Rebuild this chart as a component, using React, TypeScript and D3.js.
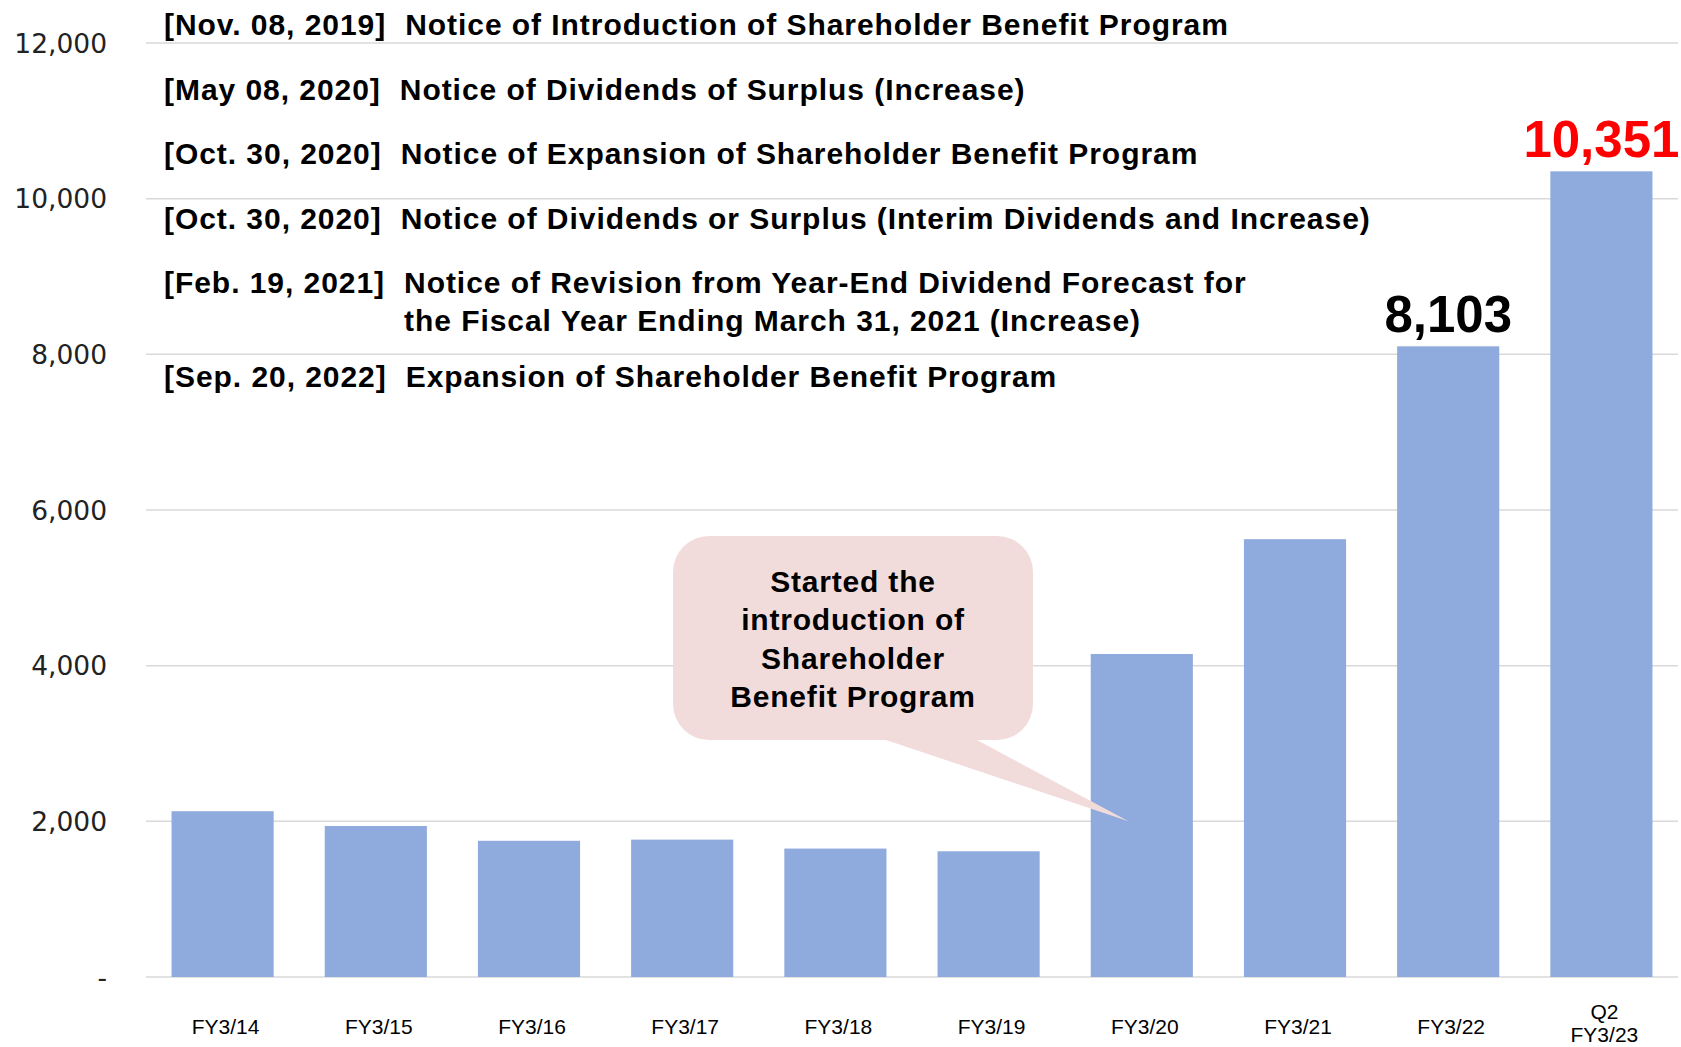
import React, { useEffect, useRef } from "react";
import * as d3 from "d3";

// Shareholders (persons) by fiscal year
const categories = [
  "FY3/14",
  "FY3/15",
  "FY3/16",
  "FY3/17",
  "FY3/18",
  "FY3/19",
  "FY3/20",
  "FY3/21",
  "FY3/22",
  "Q2\nFY3/23",
];
const values = [2130, 1940, 1750, 1765, 1650, 1615, 4150, 5625, 8103, 10351];
const yTicks = [0, 2000, 4000, 6000, 8000, 10000, 12000];

// bars that get a big value label
const labelled = ["FY3/22", "Q2\nFY3/23"];
const labelColors = ["#000000", "#FF0000"];

const noticeDates = [
  "[Nov. 08, 2019]",
  "[May 08, 2020]",
  "[Oct. 30, 2020]",
  "[Oct. 30, 2020]",
  "[Feb. 19, 2021]",
  "[Sep. 20, 2022]",
];
const noticeTitles = [
  ["Notice of Introduction of Shareholder Benefit Program"],
  ["Notice of Dividends of Surplus (Increase)"],
  ["Notice of Expansion of Shareholder Benefit Program"],
  ["Notice of Dividends or Surplus (Interim Dividends and Increase)"],
  [
    "Notice of Revision from Year-End Dividend Forecast for",
    "the Fiscal Year Ending March 31, 2021 (Increase)",
  ],
  ["Expansion of Shareholder Benefit Program"],
];

const calloutLines = ["Started the", "introduction of", "Shareholder", "Benefit Program"];
const calloutCategory = "FY3/20";
const calloutValue = 2000;

const W = 1681;
const H = 1047;

const App = () => {
  const svgRef = useRef<SVGSVGElement>(null);

  useEffect(() => {
    document.body.style.margin = "0";
    const svg = d3.select(svgRef.current);
    svg.selectAll("*").remove();

    const margin = { top: 43, right: 3, bottom: 70, left: 146 };
    const x = d3
      .scaleBand()
      .domain(categories)
      .range([margin.left, W - margin.right])
      .paddingInner(1 / 3)
      .paddingOuter(1 / 6);
    const y = d3
      .scaleLinear()
      .domain([0, 12000])
      .range([H - margin.bottom, margin.top]);

    const sans = "'Liberation Sans', Arial, sans-serif";

    // gridlines
    svg
      .append("g")
      .selectAll("line")
      .data(yTicks)
      .join("line")
      .attr("x1", margin.left)
      .attr("x2", W - margin.right)
      .attr("y1", (d) => y(d))
      .attr("y2", (d) => y(d))
      .attr("stroke", "#D9D9D9")
      .attr("stroke-width", 1.5);

    // y labels
    svg
      .append("g")
      .selectAll("text")
      .data(yTicks)
      .join("text")
      .attr("x", 107)
      .attr("y", (d) => y(d))
      .attr("dy", "0.36em")
      .attr("text-anchor", "end")
      .attr("font-family", "'DejaVu Sans', Verdana, sans-serif")
      .attr("font-size", 26.5)
      .attr("fill", "#222")
      .text((d) => (d === 0 ? "-" : d3.format(",")(d)));

    // bars
    const rows = categories.map((c, i) => ({ c, v: values[i] }));
    svg
      .append("g")
      .selectAll("rect")
      .data(rows)
      .join("rect")
      .attr("x", (d) => x(d.c)!)
      .attr("width", x.bandwidth())
      .attr("y", (d) => y(d.v))
      .attr("height", (d) => y(0) - y(d.v))
      .attr("fill", "#8FAADC");

    // x labels
    const xl = svg
      .append("g")
      .selectAll("text")
      .data(categories)
      .join("text")
      .attr("text-anchor", "middle")
      .attr("font-family", sans)
      .attr("font-size", 21)
      .attr("fill", "#000");
    xl.each(function (d) {
      const parts = d.split("\n");
      const t = d3.select(this);
      const base = parts.length > 1 ? 1019 : 1034;
      parts.forEach((p, i) => {
        t.append("tspan")
          .attr("x", x(d)! + x.bandwidth() / 2 + 3)
          .attr("y", base + i * 23)
          .text(p);
      });
    });

    // value labels
    svg
      .append("g")
      .selectAll("text")
      .data(rows.filter((r) => labelled.includes(r.c)))
      .join("text")
      .attr("x", (d) => x(d.c)! + x.bandwidth() / 2)
      .attr("y", (d) => y(d.v) - 14)
      .attr("text-anchor", "middle")
      .attr("font-family", sans)
      .attr("font-weight", "bold")
      .attr("font-size", 51)
      .attr("fill", (d) => labelColors[labelled.indexOf(d.c)])
      .text((d) => d3.format(",")(d.v));

    // notices
    const noticeBaselines = [35, 99.5, 164, 228.5, 293, 387];
    const notes = svg
      .append("g")
      .attr("font-family", sans)
      .attr("font-weight", "bold")
      .attr("font-size", 30)
      .attr("letter-spacing", 0.95)
      .attr("fill", "#000");
    noticeDates.forEach((date, i) => {
      const dt = notes
        .append("text")
        .attr("x", 164)
        .attr("y", noticeBaselines[i])
        .text(date);
      const w = (dt.node() as SVGTextElement).getComputedTextLength();
      noticeTitles[i].forEach((line, j) => {
        notes
          .append("text")
          .attr("x", 164 + w + 19)
          .attr("y", noticeBaselines[i] + j * 37.5)
          .text(line);
      });
    });

    // callout
    const box = { x0: 673, x1: 1033, y0: 536, y1: 740, r: 36 };
    const tipX = x(calloutCategory)! + x.bandwidth() * 0.37;
    const tipY = y(calloutValue);
    const callout = svg.append("g");
    callout
      .append("path")
      .attr("d", `M883,${box.y1 - 1} L${tipX},${tipY} L975,${box.y1 - 1} Z`)
      .attr("fill", "#F2DCDB");
    callout
      .append("rect")
      .attr("x", box.x0)
      .attr("y", box.y0)
      .attr("width", box.x1 - box.x0)
      .attr("height", box.y1 - box.y0)
      .attr("rx", box.r)
      .attr("fill", "#F2DCDB");
    callout
      .append("g")
      .selectAll("text")
      .data(calloutLines)
      .join("text")
      .attr("x", (box.x0 + box.x1) / 2)
      .attr("y", (d, i) => 592 + i * 38.3)
      .attr("text-anchor", "middle")
      .attr("font-family", sans)
      .attr("font-weight", "bold")
      .attr("font-size", 30)
      .attr("letter-spacing", 0.8)
      .attr("fill", "#000")
      .text((d) => d);
  }, []);

  return (
    <svg
      ref={svgRef}
      width={W}
      height={H}
      style={{ position: "absolute", left: 0, top: 0, background: "#fff" }}
    />
  );
};

export default App;
